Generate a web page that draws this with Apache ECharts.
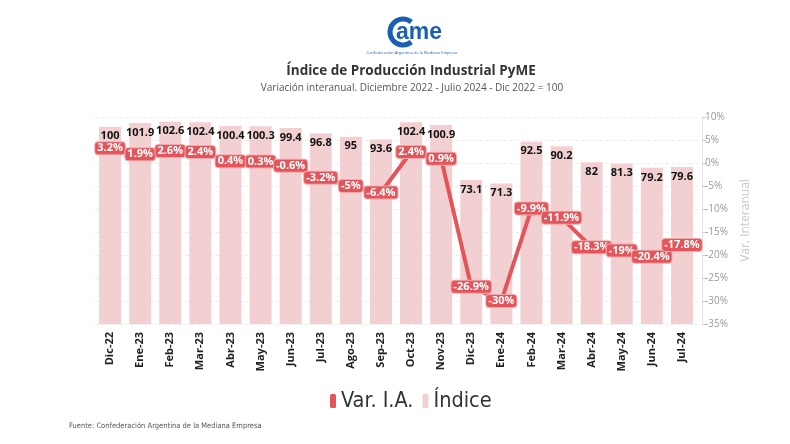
<!DOCTYPE html>
<html>
<head>
<meta charset="utf-8">
<script src="https://cdn.jsdelivr.net/npm/echarts@6/dist/echarts.min.js"></script>
<style>
html,body{margin:0;padding:0;background:#fff;}
#chart{width:790px;height:444px;}
</style>
</head>
<body>
<div id="chart"></div>
<script>
const categories = ['Dic-22','Ene-23','Feb-23','Mar-23','Abr-23','May-23','Jun-23','Jul-23','Ago-23','Sep-23','Oct-23','Nov-23','Dic-23','Ene-24','Feb-24','Mar-24','Abr-24','May-24','Jun-24','Jul-24'];
const indice = [100, 101.9, 102.6, 102.4, 100.4, 100.3, 99.4, 96.8, 95, 93.6, 102.4, 100.9, 73.1, 71.3, 92.5, 90.2, 82, 81.3, 79.2, 79.6];
const varIA = [3.2, 1.9, 2.6, 2.4, 0.4, 0.3, -0.6, -3.2, -5, -6.4, 2.4, 0.9, -26.9, -30, -9.9, -11.9, -18.3, -19, -20.4, -17.8];

const RED = '#e3555a';
const PINK = '#f2d0d2';
const NARROW = '"Liberation Sans Narrow","DejaVu Sans Condensed","Open Sans",sans-serif';

const chart = echarts.init(document.getElementById('chart'), null, {renderer:'canvas'});
chart.setOption({
  backgroundColor:'#fff',
  animation:false,
  textStyle:{fontFamily:'"Open Sans",sans-serif'},
  graphic:[
    {type:'arc', shape:{cx:403, cy:32, r:13, startAngle:Math.PI*0.28, endAngle:Math.PI*1.72}, style:{stroke:'#1a5fb4', lineWidth:5, fill:null}},
    {type:'text', x:396, y:33, style:{text:'ame', font:'bold 23px "Liberation Sans", Arial, sans-serif', fill:'#1a5fb4', textVerticalAlign:'middle', textAlign:'left'}},
    {type:'text', x:412, y:53, style:{text:'Confederación Argentina de la Mediana Empresa', font:'4px "Open Sans",sans-serif', fill:'#1a5fb4', textAlign:'center', textVerticalAlign:'middle'}},
    {type:'text', x:411, y:71, style:{text:'Índice de Producción Industrial PyME', font:'bold 13.5px "Open Sans",sans-serif', fill:'#333', textAlign:'center', textVerticalAlign:'middle'}},
    {type:'text', x:412, y:88, style:{text:'Variación interanual. Diciembre 2022 - Julio 2024 - Dic 2022 = 100', font:'10px "Open Sans",sans-serif', fill:'#555', textAlign:'center', textVerticalAlign:'middle'}},
    {type:'text', x:69, y:426, style:{text:'Fuente: Confederación Argentina de la Mediana Empresa', font:'7.5px ' + NARROW, fill:'#555', textAlign:'left', textVerticalAlign:'middle'}}
  ],
  legend:{
    data:['Var. I.A.','Índice'],
    top:385, left:325,
    icon:'roundRect', itemWidth:6, itemHeight:14, itemGap:9,
    textStyle:{fontSize:21.5, color:'#333', fontFamily:NARROW}
  },
  grid:{left:95, right:93, top:117, bottom:120},
  xAxis:{
    type:'category', data:categories,
    axisLine:{show:false}, axisTick:{show:false},
    axisLabel:{rotate:90, fontWeight:'bold', fontSize:11, color:'#222', margin:8}
  },
  yAxis:[
    {type:'value', min:0, max:105, show:false, splitLine:{show:false}},
    {type:'value', position:'right', min:-35, max:10, interval:5, offset:5,
     name:'Var. Interanual', nameLocation:'middle', nameRotate:90, nameGap:38,
     nameTextStyle:{color:'#c8c8c8', fontSize:12},
     axisLine:{show:true, lineStyle:{color:'#e6e6e6'}},
     axisTick:{show:true, length:5, lineStyle:{color:'#d0d0d0'}},
     axisLabel:{formatter:'{value}%', color:'#999', fontSize:10, margin:3},
     splitLine:{show:true, lineStyle:{type:'dashed', color:'#eeeeee'}}
    }
  ],
  series:[
    {name:'Índice', type:'bar', yAxisIndex:0, data:indice, barWidth:'73%',
     itemStyle:{color:PINK}, z:1,
     label:{show:true, position:'insideTop', distance:4, color:'#111', fontWeight:'bold', fontSize:11}
    },
    {name:'Var. I.A.', type:'line', yAxisIndex:1, data:varIA,
     symbol:'circle', symbolSize:4, showSymbol:true,
     lineStyle:{color:RED, width:4}, itemStyle:{color:RED}, z:5,
     label:{show:true, position:'inside', formatter:'{c}%', color:'#fff', fontWeight:'bold', fontSize:11,
            backgroundColor:RED, padding:[1,2,0,2], borderRadius:3, borderColor:'#f3a9ac', borderWidth:1}
    }
  ]
});
</script>
</body>
</html>
